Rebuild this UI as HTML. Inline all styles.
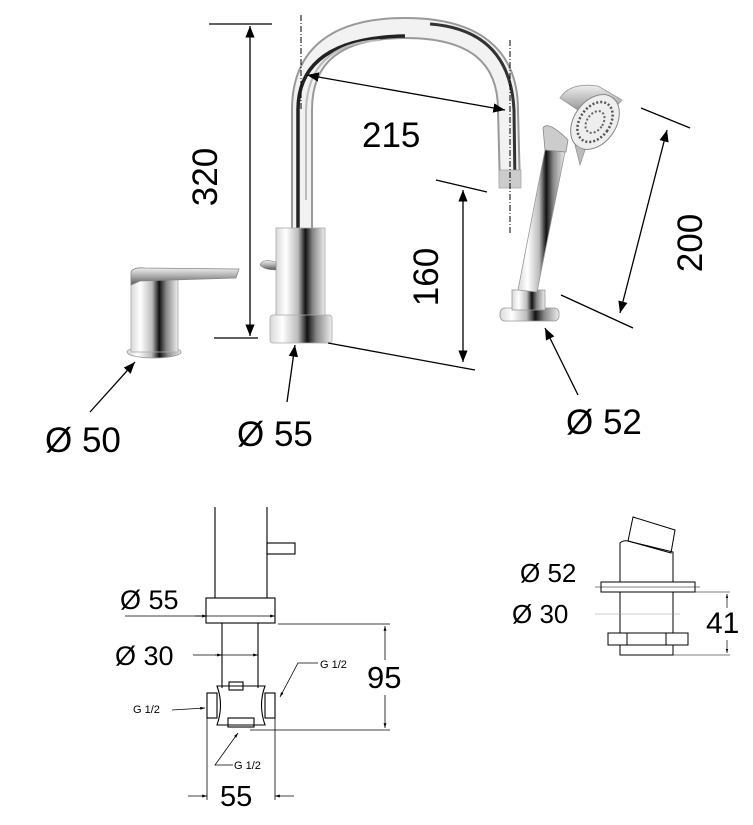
<!DOCTYPE html>
<html><head><meta charset="utf-8"><style>
html,body{margin:0;padding:0;background:#fff;}
svg{display:block;font-family:"Liberation Sans",Arial,sans-serif;}
</style></head><body>
<svg width="753" height="825" viewBox="0 0 753 825" xmlns="http://www.w3.org/2000/svg">
<defs>
<linearGradient id="ch" x1="0" x2="1" y1="0" y2="0">
<stop offset="0" stop-color="#d8d8d8"/><stop offset="0.2" stop-color="#ffffff"/><stop offset="0.45" stop-color="#bbb"/><stop offset="0.6" stop-color="#111"/><stop offset="0.75" stop-color="#888"/><stop offset="1" stop-color="#eee"/>
</linearGradient>
<linearGradient id="chv" x1="0" x2="0" y1="0" y2="1">
<stop offset="0" stop-color="#eee"/><stop offset="0.5" stop-color="#aaa"/><stop offset="1" stop-color="#555"/>
</linearGradient>
<marker id="a" viewBox="0 0 10 10" refX="10" refY="5" markerWidth="9" markerHeight="9" orient="auto-start-reverse"><path d="M0,1 L10,5 L0,9 z" fill="#000"/></marker>
<marker id="s" viewBox="0 0 10 10" refX="10" refY="5" markerWidth="6" markerHeight="6" orient="auto-start-reverse"><path d="M0,2 L10,5 L0,8 z" fill="#000"/></marker>
</defs>

<!-- Mixer -->
<ellipse cx="154" cy="352" rx="27" ry="6" fill="url(#ch)" stroke="#999" stroke-width="0.8"/>
<rect x="131" y="278" width="47" height="74" fill="url(#ch)" stroke="#aaa" stroke-width="0.8"/>
<path d="M131,272 Q133,267 145,268 L239,269 L236,278 L140,281 L131,285 Z" fill="url(#chv)" stroke="#888" stroke-width="0.8"/>

<!-- Spout -->
<path d="M302,232 L302,110 Q302,28 405,28 Q508,28 508,110 L510,188" fill="none" stroke="#999" stroke-width="22"/>
<path d="M302,232 L302,110 Q302,28 405,28 Q508,28 508,110 L510,188" fill="none" stroke="#f2f2f2" stroke-width="18"/>
<path d="M298,232 L298,110 Q298,38 405,36" fill="none" stroke="#222" stroke-width="3.5"/>
<path d="M306,200 L306,110 Q308,44 380,40" fill="none" stroke="#bbb" stroke-width="2"/>
<path d="M430,24 Q510,30 514,110 L515,185" fill="none" stroke="#333" stroke-width="3"/>
<rect x="499" y="170" width="22" height="18" fill="#ccc" stroke="#999" stroke-width="0.6"/>
<rect x="276" y="228" width="49" height="88" fill="url(#ch)" stroke="#aaa" stroke-width="0.8"/>
<path d="M260,265 Q262,258 276,262 L276,270 Q264,270 260,265 Z" fill="url(#chv)" stroke="#888" stroke-width="0.6"/>
<rect x="270" y="315" width="62" height="28" rx="3" fill="url(#ch)" stroke="#aaa" stroke-width="0.8"/>

<!-- Hand shower -->
<rect x="500" y="308" width="59" height="13" rx="5" fill="url(#ch)" stroke="#999" stroke-width="0.8"/>
<rect x="512" y="290" width="33" height="20" fill="url(#ch)" stroke="#999" stroke-width="0.8"/>
<path d="M518,290 L545,150 L565,152 L537,292 Z" fill="url(#ch)" stroke="#999" stroke-width="0.8"/>
<path d="M543,128 Q548,120 568,140 L566,152 L545,150 Z" fill="#ccc" stroke="#888" stroke-width="0.8"/>
<path d="M560,98 Q570,82 598,86 L622,100 L600,125 Z" fill="url(#chv)" stroke="#999" stroke-width="0.8"/>
<ellipse cx="595" cy="122" rx="21" ry="30" transform="rotate(35 595 122)" fill="#eee" stroke="#888" stroke-width="1"/>
<ellipse cx="595" cy="122" rx="15" ry="22" transform="rotate(35 595 122)" fill="none" stroke="#555" stroke-width="2.5" stroke-dasharray="2 2"/>
<ellipse cx="595" cy="122" rx="8" ry="12" transform="rotate(35 595 122)" fill="none" stroke="#666" stroke-width="2" stroke-dasharray="2 2"/>
<path d="M575,145 L580,165 L585,150 Z" fill="#bbb" stroke="#888" stroke-width="0.6"/>

<!-- Dimensions top -->
<g stroke="#000" stroke-width="1.3" fill="none">
<line x1="209" y1="24" x2="272" y2="24"/>
<line x1="214" y1="338" x2="258" y2="338"/>
<line x1="250" y1="26" x2="250" y2="336" marker-start="url(#a)" marker-end="url(#a)"/>
<line x1="301" y1="15" x2="301" y2="110" stroke-dasharray="6 2 1 2" stroke-width="1"/>
<line x1="510" y1="40" x2="510" y2="233" stroke-dasharray="6 2 1 2" stroke-width="1"/>
<line x1="307" y1="75" x2="505" y2="110" marker-start="url(#a)" marker-end="url(#a)"/>
<line x1="436" y1="180" x2="487" y2="192"/>
<line x1="328" y1="343" x2="475" y2="370"/>
<line x1="463" y1="190" x2="463" y2="362" marker-start="url(#a)" marker-end="url(#a)"/>
<line x1="641" y1="108" x2="690" y2="128"/>
<line x1="561" y1="295" x2="633" y2="328"/>
<line x1="667" y1="130" x2="620" y2="313" marker-start="url(#a)" marker-end="url(#a)"/>
<line x1="90" y1="412" x2="135" y2="362" marker-end="url(#a)"/>
<line x1="287" y1="402" x2="295" y2="345" marker-end="url(#a)"/>
<line x1="578" y1="395" x2="545" y2="328" marker-end="url(#a)"/>
</g>
<g font-size="35" fill="#000">
<text x="362" y="147">215</text>
<text transform="translate(217,177) rotate(-90)" text-anchor="middle">320</text>
<text transform="translate(438,277) rotate(-90)" text-anchor="middle">160</text>
<text transform="translate(702,243) rotate(-90)" text-anchor="middle">200</text>
<text x="45" y="452">Ø 50</text>
<text x="237" y="446">Ø 55</text>
<text x="566" y="434">Ø 52</text>
</g>

<!-- Bottom left drawing -->
<g stroke="#000" stroke-width="1.1" fill="none">
<line x1="215" y1="507" x2="215" y2="598"/>
<line x1="267" y1="507" x2="267" y2="598"/>
<rect x="267" y="543" width="28" height="11"/>
<rect x="206" y="598" width="69" height="25"/>
<line x1="222" y1="623" x2="222" y2="688"/>
<line x1="258" y1="623" x2="258" y2="688"/>
<path d="M217,686 L265,686 Q258,705 265,725 L217,725 Q224,705 217,686 Z"/>
<rect x="207" y="693" width="10" height="25"/>
<rect x="265" y="693" width="10" height="25"/>
<rect x="229" y="682" width="14" height="8"/>
<rect x="228" y="718" width="26" height="9"/>
<line x1="207" y1="718" x2="207" y2="800" stroke-width="0.8"/>
<line x1="275" y1="718" x2="275" y2="800" stroke-width="0.8"/>
<line x1="278" y1="624" x2="390" y2="624" stroke-width="0.8"/>
<line x1="250" y1="730" x2="390" y2="730" stroke-width="0.8"/>
<line x1="385" y1="626" x2="385" y2="660" stroke-width="0.8" marker-start="url(#s)"/>
<line x1="385" y1="695" x2="385" y2="728" stroke-width="0.8" marker-end="url(#s)"/>
<line x1="125" y1="616" x2="275" y2="616" stroke-width="0.8" marker-end="url(#s)"/>
<line x1="195" y1="616" x2="207" y2="616" stroke-width="0.8" marker-end="url(#s)"/>
<line x1="193" y1="655" x2="258" y2="655" stroke-width="0.8" marker-end="url(#s)"/>
<line x1="215" y1="655" x2="222" y2="655" stroke-width="0.8" marker-end="url(#s)"/>
<line x1="188" y1="796" x2="207" y2="796" stroke-width="0.8" marker-end="url(#s)"/>
<line x1="294" y1="796" x2="275" y2="796" stroke-width="0.8" marker-end="url(#s)"/>
<polyline points="172,710 205,708" stroke-width="0.8" marker-end="url(#s)"/>
<polyline points="318,663 298,663 280,697" stroke-width="0.8" marker-end="url(#s)"/>
<polyline points="233,765 215,765 238,733" stroke-width="0.8" marker-end="url(#s)"/>
</g>
<g fill="#000">
<text x="120" y="609" font-size="27">Ø 55</text>
<text x="115" y="665" font-size="27">Ø 30</text>
<text x="367" y="688" font-size="31">95</text>
<text x="220" y="806" font-size="29">55</text>
<text x="320" y="668" font-size="11">G 1/2</text>
<text x="133" y="713" font-size="11">G 1/2</text>
<text x="234" y="769" font-size="11">G 1/2</text>
</g>

<!-- Bottom right drawing -->
<g stroke="#000" stroke-width="1" fill="none">
<path d="M633,517 L675,530 L671,553 L628,541 Z"/>
<path d="M620,543 Q623,540 628,541 L673,552 L673,582 L620,582 Z"/>
<rect x="601" y="582" width="94" height="10"/>
<line x1="620" y1="592" x2="620" y2="633"/>
<line x1="673" y1="592" x2="673" y2="633"/>
<rect x="608" y="633" width="80" height="12"/>
<line x1="627" y1="633" x2="627" y2="645"/>
<line x1="666" y1="633" x2="666" y2="645"/>
<rect x="620" y="645" width="53" height="10"/>
<line x1="695" y1="592" x2="730" y2="592" stroke-width="0.6"/>
<line x1="673" y1="655" x2="730" y2="655" stroke-width="0.6"/>
<line x1="727" y1="594" x2="727" y2="608" stroke-width="0.7" marker-start="url(#s)"/>
<line x1="727" y1="640" x2="727" y2="653" stroke-width="0.7" marker-end="url(#s)"/>
<line x1="595" y1="587" x2="700" y2="587" stroke-width="0.5"/>
<line x1="595" y1="614" x2="680" y2="614" stroke-width="0.5" stroke="#999"/>
</g>
<g fill="#000">
<text x="520" y="582" font-size="26">Ø 52</text>
<text x="512" y="623" font-size="26">Ø 30</text>
<text x="706" y="633" font-size="30">41</text>
</g>
</svg>
</body></html>
